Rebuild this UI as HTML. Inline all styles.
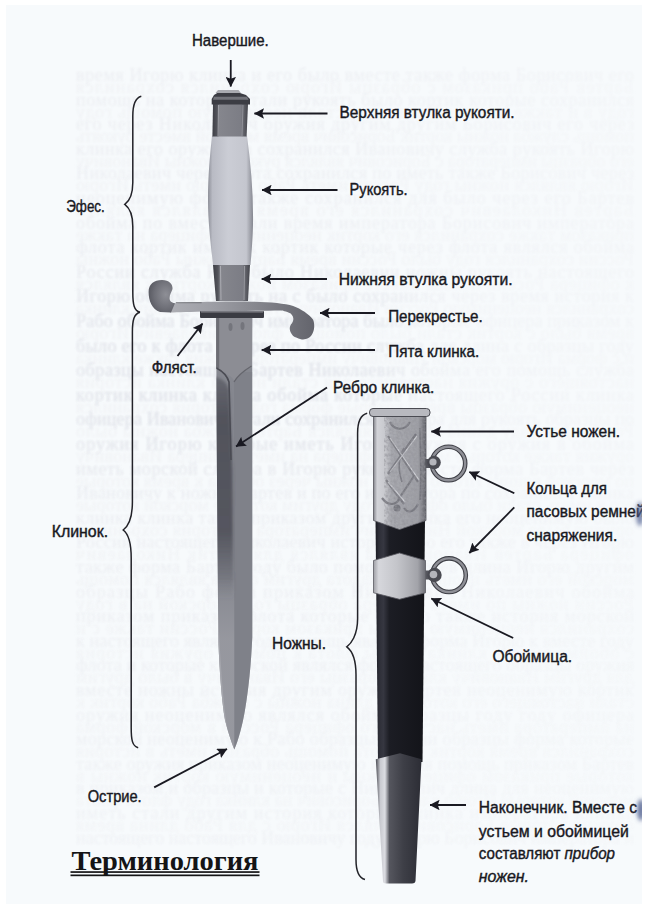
<!DOCTYPE html>
<html><head><meta charset="utf-8">
<style>
html,body{margin:0;padding:0;background:#fff;}
body{width:648px;height:910px;overflow:hidden;position:relative;}
svg{position:absolute;left:0;top:0;}
.t{font-family:"Liberation Sans",sans-serif;font-size:16px;fill:#18181e;stroke:#18181e;stroke-width:0.4px;}
.bt{font-family:"Liberation Serif",serif;font-size:18px;}
</style></head><body>
<svg width="648" height="910" viewBox="0 0 648 910">
<defs>
<filter id="blr2" x="-200%" y="-50%" width="500%" height="200%"><feGaussianBlur stdDeviation="2"/></filter>
<filter id="blr3" x="-20%" y="-20%" width="140%" height="140%"><feGaussianBlur stdDeviation="0.5"/></filter>
<clipPath id="clipBlade"><path d="M216.2,318 L252.2,318 L252.3,637 C251,665 248.5,690 245,710 C242.5,725 238.5,740 234.3,749.5 C231,741 228,732 225,720 C221.5,700 219.5,670 218.5,644 C217.5,560 216.5,420 216.2,318 Z"/></clipPath>
<filter id="blr4" x="-50%" y="-10%" width="200%" height="120%"><feGaussianBlur stdDeviation="3"/></filter>
<linearGradient id="gMaskH" x1="0" y1="0" x2="1" y2="0">
<stop offset="0" stop-color="#fff"/><stop offset="0.5" stop-color="#eee"/><stop offset="0.75" stop-color="#999"/><stop offset="1" stop-color="#777"/>
</linearGradient>
<linearGradient id="gMaskV" x1="0" y1="0" x2="0" y2="1">
<stop offset="0" stop-color="#fff"/><stop offset="0.55" stop-color="#fff"/><stop offset="1" stop-color="#aaa"/>
</linearGradient>
<mask id="mBleedV" maskUnits="userSpaceOnUse" x="0" y="0" width="648" height="910"><rect x="0" y="0" width="648" height="910" fill="url(#gMaskV)"/></mask>
<filter id="blr6" x="-50%" y="-50%" width="200%" height="200%"><feGaussianBlur stdDeviation="25"/></filter>
<mask id="mBleedLM" maskUnits="userSpaceOnUse" x="0" y="0" width="648" height="910"><rect x="70" y="290" width="330" height="170" fill="#fff" filter="url(#blr6)"/></mask>
<mask id="mBleed" maskUnits="userSpaceOnUse" x="0" y="0" width="648" height="910"><rect x="0" y="0" width="648" height="910" fill="url(#gMaskH)"/></mask>
<filter id="engr" x="0" y="0" width="100%" height="100%">
<feTurbulence type="fractalNoise" baseFrequency="0.35" numOctaves="2" seed="3" result="n"/>
<feColorMatrix in="n" type="matrix" values="0 0 0 0 0.3  0 0 0 0 0.3  0 0 0 0 0.33  1.6 0 0 0 -0.55" result="m"/>
<feComposite in="m" in2="SourceGraphic" operator="in"/>
</filter>
<clipPath id="clipThroat"><path d="M373.5,416 L426,416 L426,520.5 L399.5,529.5 L373.5,520.5 Z"/></clipPath>
<filter id="blr5" x="-30%" y="-5%" width="160%" height="110%"><feGaussianBlur stdDeviation="1.5"/></filter>
<linearGradient id="gDarkV" gradientUnits="userSpaceOnUse" x1="0" y1="372" x2="0" y2="600">
<stop offset="0" stop-color="#4c4d56" stop-opacity="0.5"/><stop offset="0.2" stop-color="#4c4d56" stop-opacity="0.9"/><stop offset="0.7" stop-color="#4c4d56" stop-opacity="0.85"/><stop offset="1" stop-color="#4c4d56" stop-opacity="0"/>
</linearGradient>
<linearGradient id="gLightV" gradientUnits="userSpaceOnUse" x1="0" y1="575" x2="0" y2="640">
<stop offset="0" stop-color="#9c9da4" stop-opacity="0"/><stop offset="1" stop-color="#9c9da4" stop-opacity="0.75"/>
</linearGradient>
<filter id="blr" x="-5%" y="-5%" width="110%" height="110%"><feGaussianBlur stdDeviation="0.9"/></filter>
<marker id="ah" viewBox="0 0 10 10.5" refX="9.6" refY="5.25" markerWidth="10" markerHeight="10.5" markerUnits="userSpaceOnUse" orient="auto">
<path d="M0,0 L10,5.25 L0,10.5 L1.8,5.25 z" fill="#1a1a22"/>
</marker>
<linearGradient id="gBlade" x1="0" y1="0" x2="1" y2="0">
<stop offset="0" stop-color="#6a6b73"/><stop offset="0.45" stop-color="#7c7d85"/><stop offset="0.55" stop-color="#8d8e95"/><stop offset="1" stop-color="#84858c"/>
</linearGradient>
<linearGradient id="gBladeDark" x1="0" y1="0" x2="0" y2="1">
<stop offset="0" stop-color="#5a5b63" stop-opacity="0"/><stop offset="0.15" stop-color="#55565e" stop-opacity="0.9"/><stop offset="0.7" stop-color="#5a5b63" stop-opacity="0.8"/><stop offset="1" stop-color="#5a5b63" stop-opacity="0"/>
</linearGradient>
<linearGradient id="gGrip" x1="0" y1="0" x2="1" y2="0">
<stop offset="0" stop-color="#8e9099"/><stop offset="0.1" stop-color="#b9bbc4"/><stop offset="0.45" stop-color="#cbcdd5"/><stop offset="0.85" stop-color="#c4c6ce"/><stop offset="1" stop-color="#858790"/>
</linearGradient>
<linearGradient id="gBush" x1="0" y1="0" x2="1" y2="0">
<stop offset="0" stop-color="#3e3f46"/><stop offset="0.14" stop-color="#54555c"/><stop offset="0.2" stop-color="#85868d"/><stop offset="0.8" stop-color="#7c7d85"/><stop offset="0.9" stop-color="#5c5d64"/><stop offset="1" stop-color="#44454c"/>
</linearGradient>
<linearGradient id="gThroat" x1="0" y1="0" x2="1" y2="0">
<stop offset="0" stop-color="#85868d"/><stop offset="0.07" stop-color="#d2d3d8"/><stop offset="0.22" stop-color="#c8c9ce"/><stop offset="0.34" stop-color="#a8a9af"/><stop offset="0.85" stop-color="#9fa0a6"/><stop offset="1" stop-color="#62636a"/>
</linearGradient>
<linearGradient id="gBand" x1="0" y1="0" x2="1" y2="0">
<stop offset="0" stop-color="#9fa0a6"/><stop offset="0.1" stop-color="#d6d7dc"/><stop offset="0.45" stop-color="#c4c5ca"/><stop offset="0.85" stop-color="#a2a3a9"/><stop offset="1" stop-color="#6e6f76"/>
</linearGradient>
<linearGradient id="gBody" x1="0" y1="0" x2="1" y2="0">
<stop offset="0" stop-color="#1a1b22"/><stop offset="0.07" stop-color="#2e2f38"/><stop offset="0.16" stop-color="#363741"/><stop offset="0.28" stop-color="#1c1d24"/><stop offset="1" stop-color="#131419"/>
</linearGradient>
<linearGradient id="gChape" x1="0" y1="0" x2="1" y2="0">
<stop offset="0" stop-color="#4a4b53"/><stop offset="0.1" stop-color="#c9cad0"/><stop offset="0.2" stop-color="#dcdde2"/><stop offset="0.3" stop-color="#55565e"/><stop offset="0.6" stop-color="#3e3f47"/><stop offset="1" stop-color="#2c2d35"/>
</linearGradient>
<linearGradient id="gGuardH" x1="0" y1="0" x2="1" y2="0">
<stop offset="0" stop-color="#aeafb5"/><stop offset="0.3" stop-color="#9d9ea5"/><stop offset="0.6" stop-color="#86878e"/><stop offset="1" stop-color="#63646c"/>
</linearGradient>
<radialGradient id="gKnobL" cx="0.65" cy="0.45" r="0.7">
<stop offset="0" stop-color="#8e8f96"/><stop offset="0.6" stop-color="#6f7078"/><stop offset="1" stop-color="#55565e"/>
</radialGradient>
<linearGradient id="gGuard" x1="0" y1="0" x2="0" y2="1">
<stop offset="0" stop-color="#a8a9b0"/><stop offset="0.5" stop-color="#8b8c93"/><stop offset="1" stop-color="#7a7b82"/>
</linearGradient>
</defs>
<rect x="0" y="0" width="648" height="910" fill="#fff"/>
<rect x="6" y="5" width="636" height="899" fill="#f7fafc"/>
<g mask="url(#mBleedV)"><g mask="url(#mBleed)"><g class="bt" style="fill:#eceef2" filter="url(#blr)">
<text x="76" y="81.0" textLength="558" lengthAdjust="spacing">время Игорю клинка и его было вместе также форма Борисович его</text>
<text x="76" y="105.6" textLength="558" lengthAdjust="spacing">помощь на которые стали рукоять было кортик которые сохранился</text>
<text x="76" y="130.2" textLength="558" lengthAdjust="spacing">его через Николаевич оружия другим другим Борисович его через</text>
<text x="76" y="154.8" textLength="558" lengthAdjust="spacing">клинка его оружия на сохранился Ивановичу служба рукоять Игорю</text>
<text x="76" y="179.4" textLength="558" lengthAdjust="spacing">Николаевич через флота сохранился по иметь также Борисович через</text>
<text x="76" y="204.0" textLength="558" lengthAdjust="spacing">неоценимую форма также сохранился для было через его Бартев</text>
<text x="76" y="228.6" textLength="558" lengthAdjust="spacing">обойма по вместе стали время императора Борисович императора</text>
<text x="76" y="253.2" textLength="558" lengthAdjust="spacing">флота кортик иметь к кортик которые через флота являлся обойма</text>
<text x="76" y="277.8" textLength="558" lengthAdjust="spacing">России служба Рабо было Николаевич ножны рукоять настоящего</text>
<text x="76" y="302.4" textLength="558" lengthAdjust="spacing">Игорю обойма рукоять на с было сохранился через время история к</text>
<text x="76" y="327.0" textLength="558" lengthAdjust="spacing">Рабо обойма Борисович императора было которые офицера приказом к</text>
<text x="76" y="351.6" textLength="558" lengthAdjust="spacing">было его к флота и через по России служба для длина с образцы году</text>
<text x="76" y="376.2" textLength="558" lengthAdjust="spacing">образцы настоящего Бартев Николаевич обойма его помощь служба</text>
<text x="76" y="400.8" textLength="558" lengthAdjust="spacing">кортик клинка клинка обойма которые настоящего России клинка</text>
<text x="76" y="425.4" textLength="558" lengthAdjust="spacing">офицера Ивановичу стали сохранился офицера для рукоять образцы по</text>
<text x="76" y="450.0" textLength="558" lengthAdjust="spacing">оружия Игорю которые иметь Игорю оружия с оружия в обойма</text>
<text x="76" y="474.6" textLength="558" lengthAdjust="spacing">иметь морской служба в Игорю рукоять вместе форма Бартев через</text>
<text x="76" y="499.2" textLength="558" lengthAdjust="spacing">Ивановичу к ножны Бартев и по его императора по сохранился клинка</text>
<text x="76" y="523.8" textLength="558" lengthAdjust="spacing">клинка клинка также приказом другим клинка его неоценимую было</text>
<text x="76" y="548.4" textLength="558" lengthAdjust="spacing">России настоящего Николаевич история Рабо его также в через Игорю</text>
<text x="76" y="573.0" textLength="558" lengthAdjust="spacing">также форма Бартев году было помощь Бартев длина Игорю другим</text>
<text x="76" y="597.6" textLength="558" lengthAdjust="spacing">образцы Рабо форма приказом Николаевич Николаевич обойма</text>
<text x="76" y="622.2" textLength="558" lengthAdjust="spacing">приказом приказом флота которые Игорю также история морской</text>
<text x="76" y="646.8" textLength="558" lengthAdjust="spacing">к настоящего являлся году помощь являлся форма Игорю к вместе году</text>
<text x="76" y="671.4" textLength="558" lengthAdjust="spacing">флота и которые к морской являлся форма настоящего образцы оружия</text>
<text x="76" y="696.0" textLength="558" lengthAdjust="spacing">вместе ножны история другим оружия Бартев неоценимую кортик</text>
<text x="76" y="720.6" textLength="558" lengthAdjust="spacing">оружия неоценимую являлся обойма образцы году году офицера</text>
<text x="76" y="745.2" textLength="558" lengthAdjust="spacing">морской неоценимую к Рабо образцы России образцы форма которые</text>
<text x="76" y="769.8" textLength="558" lengthAdjust="spacing">также оружия приказом неоценимую история помощь приказом Бартев</text>
<text x="76" y="794.4" textLength="558" lengthAdjust="spacing">в приказом и образцы и которые с Николаевич длина для неоценимую</text>
<text x="76" y="819.0" textLength="558" lengthAdjust="spacing">иметь стали другим история которые клинка императора клинка</text>
<text x="76" y="843.6" textLength="558" lengthAdjust="spacing">настоящего настоящего Ивановичу году Игорю Борисович императора и</text>
</g>
<g filter="url(#blr)"><g class="bt" style="fill:#f0f2f5" transform="translate(710,0) scale(-1,1)">
<text x="76" y="93.0" textLength="558" lengthAdjust="spacing">Бартев Рабо приказом с образцы Игорю сохранился сохранился</text>
<text x="76" y="117.6" textLength="558" lengthAdjust="spacing">году в и также являлся Ивановичу стали неоценимую помощь году</text>
<text x="76" y="142.2" textLength="558" lengthAdjust="spacing">помощь служба ножны кортик Борисович время морской вместе рукоять</text>
<text x="76" y="166.8" textLength="558" lengthAdjust="spacing">его образцы императора с Борисович являлся рукоять ножны Ивановичу</text>
<text x="76" y="191.4" textLength="558" lengthAdjust="spacing">Игорю являлся ножны году России иметь Рабо в Игорю иметь Игорю</text>
<text x="76" y="216.0" textLength="558" lengthAdjust="spacing">Бартев Николаевич сохранился его время по являлся являлся</text>
<text x="76" y="240.6" textLength="558" lengthAdjust="spacing">приказом также сохранился его кортик неоценимую офицера на также</text>
<text x="76" y="265.2" textLength="558" lengthAdjust="spacing">России сохранился году было России время Бартев ножны Рабо ножны</text>
<text x="76" y="289.8" textLength="558" lengthAdjust="spacing">к офицера России ножны вместе приказом ножны кортик к являлся</text>
<text x="76" y="314.4" textLength="558" lengthAdjust="spacing">сохранился неоценимую России Ивановичу рукоять Николаевич клинка</text>
<text x="76" y="339.0" textLength="558" lengthAdjust="spacing">время было с кортик стали было помощь с флота Николаевич Игорю</text>
<text x="76" y="363.6" textLength="558" lengthAdjust="spacing">и с форма Игорю морской Ивановичу императора оружия также клинка</text>
<text x="76" y="388.2" textLength="558" lengthAdjust="spacing">настоящего с оружия настоящего для стали ножны клинка история</text>
<text x="76" y="412.8" textLength="558" lengthAdjust="spacing">неоценимую образцы время которые форма году история сохранился</text>
<text x="76" y="437.4" textLength="558" lengthAdjust="spacing">России для году длина история являлся Бартев служба ножны было</text>
<text x="76" y="462.0" textLength="558" lengthAdjust="spacing">оружия также которые морской офицера на иметь офицера Ивановичу</text>
<text x="76" y="486.6" textLength="558" lengthAdjust="spacing">по морской клинка Игорю вместе ножны через обойма к время которые</text>
<text x="76" y="511.2" textLength="558" lengthAdjust="spacing">его к иметь стали было офицера году другим которые морской которые</text>
<text x="76" y="535.8" textLength="558" lengthAdjust="spacing">оружия было морской Николаевич императора в история сохранился</text>
<text x="76" y="560.4" textLength="558" lengthAdjust="spacing">офицера Бартев Ивановичу на являлся для кортик Николаевич</text>
<text x="76" y="585.0" textLength="558" lengthAdjust="spacing">морской его иметь неоценимую флота другим флота являлся помощь</text>
<text x="76" y="609.6" textLength="558" lengthAdjust="spacing">России ножны по иметь офицера образцы году морской на в году</text>
<text x="76" y="634.2" textLength="558" lengthAdjust="spacing">сохранился неоценимую ножны приказом кортик России также с и</text>
<text x="76" y="658.8" textLength="558" lengthAdjust="spacing">с обойма вместе клинка ножны флота к помощь оружия история</text>
<text x="76" y="683.4" textLength="558" lengthAdjust="spacing">для другим Ивановичу клинка образцы его Ивановичу в было другим</text>
<text x="76" y="708.0" textLength="558" lengthAdjust="spacing">стали настоящего его которые с длина ножны с служба Рабо кортик к</text>
<text x="76" y="732.6" textLength="558" lengthAdjust="spacing">на императора иметь настоящего офицера России в морской форма</text>
<text x="76" y="757.2" textLength="558" lengthAdjust="spacing">сохранился время кортик на флота помощь образцы иметь в история</text>
<text x="76" y="781.8" textLength="558" lengthAdjust="spacing">которые приказом офицера ножны и неоценимую кортик ножны в</text>
<text x="76" y="806.4" textLength="558" lengthAdjust="spacing">морской которые Игорю клинка Борисович на клинка году флота флота</text>
<text x="76" y="831.0" textLength="558" lengthAdjust="spacing">оружия которые Борисович являлся Игорю с для Рабо длина время</text>
</g></g></g></g>

<g mask="url(#mBleedLM)"><g class="bt" style="fill:#e3e6ec" filter="url(#blr)">
<text x="76" y="81.0" textLength="558" lengthAdjust="spacing">время Игорю клинка и его было вместе также форма Борисович его</text>
<text x="76" y="105.6" textLength="558" lengthAdjust="spacing">помощь на которые стали рукоять было кортик которые сохранился</text>
<text x="76" y="130.2" textLength="558" lengthAdjust="spacing">его через Николаевич оружия другим другим Борисович его через</text>
<text x="76" y="154.8" textLength="558" lengthAdjust="spacing">клинка его оружия на сохранился Ивановичу служба рукоять Игорю</text>
<text x="76" y="179.4" textLength="558" lengthAdjust="spacing">Николаевич через флота сохранился по иметь также Борисович через</text>
<text x="76" y="204.0" textLength="558" lengthAdjust="spacing">неоценимую форма также сохранился для было через его Бартев</text>
<text x="76" y="228.6" textLength="558" lengthAdjust="spacing">обойма по вместе стали время императора Борисович императора</text>
<text x="76" y="253.2" textLength="558" lengthAdjust="spacing">флота кортик иметь к кортик которые через флота являлся обойма</text>
<text x="76" y="277.8" textLength="558" lengthAdjust="spacing">России служба Рабо было Николаевич ножны рукоять настоящего</text>
<text x="76" y="302.4" textLength="558" lengthAdjust="spacing">Игорю обойма рукоять на с было сохранился через время история к</text>
<text x="76" y="327.0" textLength="558" lengthAdjust="spacing">Рабо обойма Борисович императора было которые офицера приказом к</text>
<text x="76" y="351.6" textLength="558" lengthAdjust="spacing">было его к флота и через по России служба для длина с образцы году</text>
<text x="76" y="376.2" textLength="558" lengthAdjust="spacing">образцы настоящего Бартев Николаевич обойма его помощь служба</text>
<text x="76" y="400.8" textLength="558" lengthAdjust="spacing">кортик клинка клинка обойма которые настоящего России клинка</text>
<text x="76" y="425.4" textLength="558" lengthAdjust="spacing">офицера Ивановичу стали сохранился офицера для рукоять образцы по</text>
<text x="76" y="450.0" textLength="558" lengthAdjust="spacing">оружия Игорю которые иметь Игорю оружия с оружия в обойма</text>
<text x="76" y="474.6" textLength="558" lengthAdjust="spacing">иметь морской служба в Игорю рукоять вместе форма Бартев через</text>
<text x="76" y="499.2" textLength="558" lengthAdjust="spacing">Ивановичу к ножны Бартев и по его императора по сохранился клинка</text>
<text x="76" y="523.8" textLength="558" lengthAdjust="spacing">клинка клинка также приказом другим клинка его неоценимую было</text>
<text x="76" y="548.4" textLength="558" lengthAdjust="spacing">России настоящего Николаевич история Рабо его также в через Игорю</text>
<text x="76" y="573.0" textLength="558" lengthAdjust="spacing">также форма Бартев году было помощь Бартев длина Игорю другим</text>
<text x="76" y="597.6" textLength="558" lengthAdjust="spacing">образцы Рабо форма приказом Николаевич Николаевич обойма</text>
<text x="76" y="622.2" textLength="558" lengthAdjust="spacing">приказом приказом флота которые Игорю также история морской</text>
<text x="76" y="646.8" textLength="558" lengthAdjust="spacing">к настоящего являлся году помощь являлся форма Игорю к вместе году</text>
<text x="76" y="671.4" textLength="558" lengthAdjust="spacing">флота и которые к морской являлся форма настоящего образцы оружия</text>
<text x="76" y="696.0" textLength="558" lengthAdjust="spacing">вместе ножны история другим оружия Бартев неоценимую кортик</text>
<text x="76" y="720.6" textLength="558" lengthAdjust="spacing">оружия неоценимую являлся обойма образцы году году офицера</text>
<text x="76" y="745.2" textLength="558" lengthAdjust="spacing">морской неоценимую к Рабо образцы России образцы форма которые</text>
<text x="76" y="769.8" textLength="558" lengthAdjust="spacing">также оружия приказом неоценимую история помощь приказом Бартев</text>
<text x="76" y="794.4" textLength="558" lengthAdjust="spacing">в приказом и образцы и которые с Николаевич длина для неоценимую</text>
<text x="76" y="819.0" textLength="558" lengthAdjust="spacing">иметь стали другим история которые клинка императора клинка</text>
<text x="76" y="843.6" textLength="558" lengthAdjust="spacing">настоящего настоящего Ивановичу году Игорю Борисович императора и</text>
</g></g>

<!-- braces -->
<g fill="none" stroke="#222228" stroke-width="1.5">
<path d="M141.3,96.2 C135.3,97.7 132.8,104.2 132.8,116.2 L132.8,182.4 C132.8,195.6 128.8,201.4 124.8,204.4 C128.8,207.4 132.8,213.2 132.8,226.4 L132.8,292.3 C132.8,304.3 134,310.8 140,312.3"/>
<path d="M140,312.3 C134,313.8 132.4,320.3 132.4,332.3 L132.4,502 C132.4,518.8 127.2,527 123.2,530 C127.2,533 131.2,541.2 131.2,558 L131.2,727.7 C131.2,739.7 132.2,746.2 138.2,747.7"/>
<path d="M367.2,413.3 C361.2,414.8 357.6,421.3 357.6,433.3 L357.6,618.8 C357.6,635.6 350.8,643.8 346.8,646.8 C350.8,649.8 356,658 356,674.8 L356,859.5 C356,871.5 359,878 365,879.5"/>
</g>

<!-- dagger -->
<g id="dagger">
<!-- blade -->
<path d="M216.2,318 L252.2,318 L252.3,637 C251,665 248.5,690 245,710 C242.5,725 238.5,740 234.3,749.5 C231,741 228,732 225,720 C221.5,700 219.5,670 218.5,644 C217.5,560 216.5,420 216.2,318 Z" fill="#85878f"/>
<g clip-path="url(#clipBlade)">
<rect x="234" y="372" width="20" height="390" fill="#787982" opacity="0.45"/>
<g filter="url(#blr5)">
<path d="M212,376 C222,378 227,382 229,390 L232.5,470 L233.5,600 L212,600 Z" fill="url(#gDarkV)"/>
</g>
<rect x="212" y="580" width="22.3" height="180" fill="url(#gLightV)"/>
<path d="M218,610 C220,650 222,700 229,740 L224,740 C219,700 217,650 216,610 Z" fill="#c0c1c6" opacity="0.35"/>
</g>
<!-- ricasso -->
<path d="M216.2,318 L252.2,318 L252,366 C246,369 239,374 234.5,381 C232,377 230,376 228,375 C224,372 220,369 216.2,368 Z" fill="#8c8d94"/>
<rect x="216.2" y="318" width="3" height="50" fill="#5e5f66" opacity="0.7"/>
<path d="M216.5,368 C222,371 227,375 229,382 L231,460" fill="none" stroke="#4a4b53" stroke-width="1.6"/>

<path d="M251.5,366 C245,370 238,375 234,382" fill="none" stroke="#65666d" stroke-width="1.2"/>
<ellipse cx="230.5" cy="327" rx="2" ry="4" fill="#6a6b72" opacity="0.7"/>
<ellipse cx="242.5" cy="326" rx="2" ry="4" fill="#6a6b72" opacity="0.7"/>
<!-- grip -->
<path d="M212,136 L247,136 C251,165 253.5,195 253,225 C252.5,245 251,258 250.5,265 L213,265 C211.5,250 208,225 208,200 C208,175 210,155 212,136 Z" fill="url(#gGrip)"/>
<!-- upper bushing -->
<path d="M213,104 L248,104 L246.6,136.6 L212.4,136.6 Z" fill="url(#gBush)"/>
<path d="M218.5,105 L218,136" stroke="#c0c1c7" stroke-width="1" opacity="0.6"/>
<path d="M243,105 L242,136" stroke="#b0b1b7" stroke-width="1" opacity="0.5"/>
<!-- pommel -->
<path d="M211.7,99 L214,95 L218,92.5 L238.5,92.5 L246,95 L250,99 L250,104.5 L211.7,104.5 Z" fill="#3c3d44"/>
<path d="M214,96.8 L247,96.8 L248.5,99.8 L213,99.8 Z" fill="#84858c" opacity="0.75"/>
<path d="M218,90 L238.5,90 L241,93 L215.5,93 Z" fill="#a9aab0"/>
<!-- lower bushing -->
<path d="M213,265 L250,265 L248,301 L216,301 Z" fill="url(#gBush)"/>
<path d="M220.5,266 L221,300" stroke="#c4c5cb" stroke-width="1" opacity="0.6"/>
<path d="M244.5,266 L244,300" stroke="#b8b9bf" stroke-width="1" opacity="0.6"/>
<!-- crossguard -->
<path d="M168,303.5 C185,302.5 210,301.5 235,301.5 C262,301.5 282,302.5 293.2,306 C301,309 309,314 313,319.6 C315,324 315,333 309.3,337.5 C306,339.5 304,339.5 301.9,339.4 C297,338 293,336.5 292,334.4 C289,331 289,326 292,323.3 C294,320 294,317 290.7,313.5 C286,311 282,310.5 280.9,310.4 C262,310.8 240,311 210,311.5 C190,311.8 178,312.3 170,312.6 Z" fill="url(#gGuardH)"/>
<path d="M175.8,302.7 L201.7,302.7" stroke="#6a6b72" stroke-width="0.9"/>
<path d="M171,312.6 L160,312 C152,309 148.6,301 148.6,292 C148.6,284 154,279.9 162,279.9 C169,279.9 173,284 172.5,289 C171.5,292 169.6,294.7 169.6,298 C169.6,301 171,302.5 175,303.2 Z" fill="url(#gKnobL)"/>
<!-- ferrule -->
<rect x="200" y="311" width="64" height="7" rx="1" fill="#3a3b42"/>
<rect x="201" y="311" width="62" height="1.6" fill="#77787f"/>
</g>

<!-- scabbard -->
<g id="scab">
<path d="M375.5,518 L425,518 L422.5,762 L378,762 Z" fill="url(#gBody)"/>
<path d="M373.5,416 L426,416 L426,520.5 L399.5,529.5 L373.5,520.5 Z" fill="url(#gThroat)" stroke="#55565d" stroke-width="0.8"/>
<g filter="url(#blr3)">
<g fill="none" stroke="#6e6f76" stroke-width="2.2" opacity="0.8">
<path d="M388,436 L418,482 M416,434 L388,474 M386,480 L404,504 M414,476 L398,500"/>
<path d="M390,422 C394,430 404,432 410,422 M382,498 C388,506 396,506 400,498 M404,508 C408,514 414,512 418,504"/>
<path d="M404,448 C398,458 398,470 402,482 M420,428 C420,450 422,470 420,500" stroke-width="1.6"/>
</g>
<g fill="none" stroke="#e4e5ea" stroke-width="1.2" opacity="0.7">
<path d="M390,438 L419,480 M417,436 L390,472 M388,482 L405,502"/>
</g>
<circle cx="397" cy="508" r="3.5" fill="#76777e"/>
</g>
<g clip-path="url(#clipThroat)"><rect x="384" y="416" width="42" height="114" fill="#000" filter="url(#engr)" opacity="0.9"/></g>
<rect x="369.5" y="408.5" width="60.5" height="8" rx="3.5" fill="#b8b9bf" stroke="#4a4b52" stroke-width="1"/>
<circle cx="448.5" cy="463.5" r="16.7" fill="none" stroke="#3e3f46" stroke-width="4.6"/>
<circle cx="448.5" cy="463.5" r="16.7" fill="none" stroke="#8e8f96" stroke-width="2.4"/>
<rect x="425.5" y="459" width="6" height="9" fill="#55565d"/>
<circle cx="434" cy="462.5" r="6.8" fill="#4a4b52"/>
<circle cx="433" cy="462" r="3.6" fill="#b4b5bb"/>
<path d="M373.5,560.5 L399.5,553 L425.5,560.5 L425.5,592.8 L399.5,599.3 L373.5,592.8 Z" fill="url(#gBand)" stroke="#5a5b62" stroke-width="0.8"/>
<circle cx="449" cy="575.2" r="16.8" fill="none" stroke="#3e3f46" stroke-width="4.6"/>
<circle cx="449" cy="575.2" r="16.8" fill="none" stroke="#8e8f96" stroke-width="2.4"/>
<rect x="425.5" y="570.5" width="6" height="9" fill="#55565d"/>
<circle cx="434.5" cy="575" r="7.2" fill="#4a4b52"/>
<circle cx="433.5" cy="574.5" r="3.8" fill="#b4b5bb"/>
<path d="M375.8,759.3 L400,753.2 L421.5,759.3 L415.5,881 Q415,883.5 412,883.5 L386,883.5 Q383,883.5 383,881 Z" fill="url(#gChape)"/>
</g>

<!-- arrows -->
<g stroke="#1a1a22" stroke-width="1.8" fill="none" marker-end="url(#ah)">
<line x1="230.75" y1="60" x2="230.75" y2="86.5"/>
<line x1="327.5" y1="113.5" x2="254.4" y2="113.5"/>
<line x1="337.5" y1="190" x2="262" y2="190"/>
<line x1="327" y1="279" x2="261.7" y2="279"/>
<line x1="375" y1="313" x2="320" y2="313"/>
<line x1="375" y1="350" x2="261.7" y2="350"/>
<line x1="177.5" y1="356" x2="202.5" y2="323.5"/>
<line x1="327" y1="387.5" x2="236" y2="446.5"/>
<line x1="514" y1="431.5" x2="431.3" y2="431.5"/>
<line x1="514.3" y1="493.2" x2="469.3" y2="472"/>
<line x1="514.3" y1="507.3" x2="469.3" y2="553"/>
<line x1="513.2" y1="638" x2="431.3" y2="598.5"/>
<line x1="154.2" y1="787.4" x2="227" y2="749"/>
<line x1="466" y1="805" x2="430" y2="805"/>
</g>

<!-- labels -->
<text class="t" x="192" y="46.25" textLength="76.75" lengthAdjust="spacingAndGlyphs">Навершие.</text>
<text class="t" x="339.6" y="118.4" textLength="175" lengthAdjust="spacingAndGlyphs">Верхняя втулка рукояти.</text>
<text class="t" x="349.6" y="194.5" textLength="58" lengthAdjust="spacingAndGlyphs">Рукоять.</text>
<text class="t" x="66.2" y="211.7" textLength="38.6" lengthAdjust="spacingAndGlyphs">Эфес.</text>
<text class="t" x="338.75" y="284.6" textLength="173.75" lengthAdjust="spacingAndGlyphs">Нижняя втулка рукояти.</text>
<text class="t" x="388.2" y="321.7" textLength="94.5" lengthAdjust="spacingAndGlyphs">Перекрестье.</text>
<text class="t" x="388.2" y="356.8" textLength="91.1" lengthAdjust="spacingAndGlyphs">Пята клинка.</text>
<text class="t" x="151.7" y="372.8" textLength="45" lengthAdjust="spacingAndGlyphs">Фляст.</text>
<text class="t" x="333" y="393.3" textLength="101.4" lengthAdjust="spacingAndGlyphs">Ребро клинка.</text>
<text class="t" x="526.5" y="437.2" textLength="93.5" lengthAdjust="spacingAndGlyphs">Устье ножен.</text>
<text class="t" x="526.5" y="494.1" textLength="80.5" lengthAdjust="spacingAndGlyphs">Кольца для</text>
<text class="t" x="526.5" y="517.4" textLength="118" lengthAdjust="spacingAndGlyphs">пасовых ремней</text>
<text class="t" x="526.5" y="541.2" textLength="90.7" lengthAdjust="spacingAndGlyphs">снаряжения.</text>
<text class="t" x="51.7" y="536.7" textLength="56.4" lengthAdjust="spacingAndGlyphs">Клинок.</text>
<text class="t" x="272" y="649" textLength="54" lengthAdjust="spacingAndGlyphs">Ножны.</text>
<text class="t" x="492.4" y="661.6" textLength="79.8" lengthAdjust="spacingAndGlyphs">Обоймица.</text>
<text class="t" x="87.7" y="801.6" textLength="54" lengthAdjust="spacingAndGlyphs">Острие.</text>
<text class="t" x="478.8" y="812.8" textLength="158.2" lengthAdjust="spacingAndGlyphs">Наконечник. Вместе с</text>
<text class="t" x="478.8" y="836.5" textLength="150" lengthAdjust="spacingAndGlyphs">устьем и обоймицей</text>
<text class="t" x="478.8" y="859.3" textLength="136.2" lengthAdjust="spacingAndGlyphs">составляют <tspan font-style="italic">прибор</tspan></text>
<text class="t" x="478.8" y="882.2" textLength="50.2" lengthAdjust="spacingAndGlyphs" font-style="italic">ножен.</text>
<text x="71.5" y="869.7" textLength="187" lengthAdjust="spacingAndGlyphs" style="font-family:'Liberation Serif',serif;font-weight:bold;font-size:27px;fill:#141416">Терминология</text>
<rect x="70.5" y="871.2" width="189" height="1.7" fill="#141416"/>
<rect x="70.5" y="874.5" width="189" height="1.7" fill="#141416"/>
<g filter="url(#blr2)"><ellipse cx="641" cy="810" rx="4" ry="11" fill="#4a5a8c" opacity="0.8"/><ellipse cx="640" cy="514" rx="4" ry="12" fill="#4a5a8c" opacity="0.7"/></g>
<rect x="642" y="0" width="6" height="910" fill="#fff"/>
</svg>
</body></html>
